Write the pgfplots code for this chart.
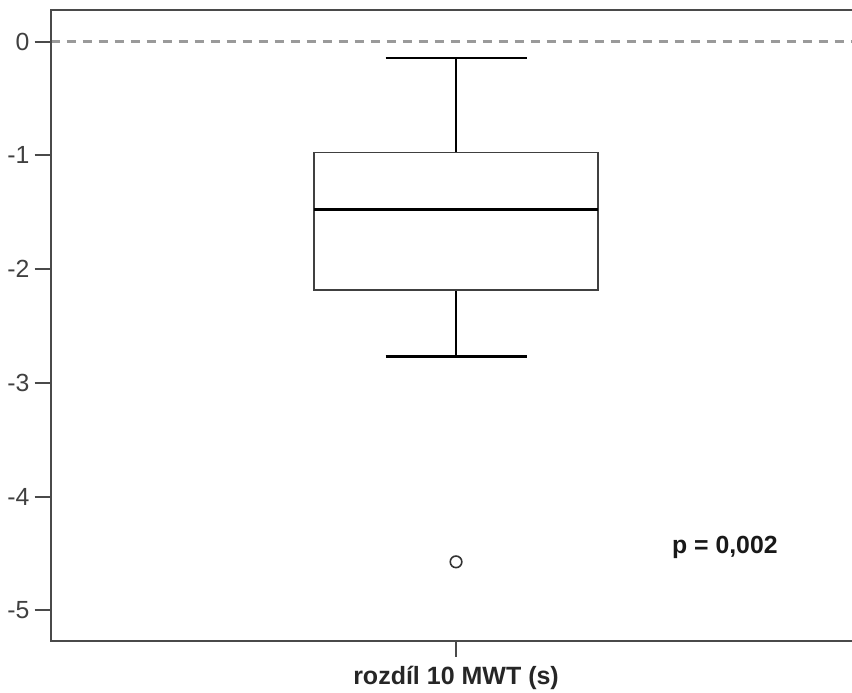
\documentclass[border=0pt]{standalone}
\usepackage{fontspec}
\setmainfont{Liberation Sans}
\usepackage{pgfplots}
\pgfplotsset{compat=1.18}
\definecolor{framec}{HTML}{4A4A4A}
\definecolor{boxc}{HTML}{404040}
\definecolor{dashc}{HTML}{9A9A9A}
\begin{document}
\begin{tikzpicture}
\begin{axis}[
  name=ax,
  scale only axis,
  width=405.45pt, height=315.5pt,
  xmin=0, xmax=2,
  ymin=-5.27, ymax=0.2788,
  axis line style={draw=none},
  tick pos=left,
  tick align=outside,
  major tick length=8pt,
  tick style={color=framec, line width=1pt},
  xtick={1}, xticklabels={rozdíl 10 MWT (s)},
  ytick={-5,-4,-3,-2,-1,0},
  yticklabels={-5,-4,-3,-2,-1,0},
  xticklabel style={font=\fontsize{12.5}{14}\selectfont\bfseries, text=black!85, yshift=-1pt},
  yticklabel style={font=\fontsize{12.4}{14}\selectfont, text=black!75, xshift=1pt},
  clip=false,
]
% reference line
\addplot[dashc, line width=1.3pt, dash pattern=on 4.5pt off 3.5pt] coordinates {(0,0) (2,0)};
% whiskers (vertical parts)
\addplot[black, line width=1.1pt] coordinates {(1,-0.974) (1,-0.143)};
\addplot[black, line width=1.1pt] coordinates {(1,-2.182) (1,-2.769)};
% whisker caps
\addplot[black, line width=1.1pt] coordinates {(0.826,-0.143) (1.174,-0.143)};
\addplot[black, line width=1.1pt] coordinates {(0.826,-2.769) (1.174,-2.769)};
% box (Q1..Q3)
\addplot[boxc, line width=0.8pt, fill=white] coordinates {(0.6498,-2.182) (1.3502,-2.182) (1.3502,-0.974) (0.6498,-0.974)} -- cycle;
% median
\addplot[black, line width=1.6pt] coordinates {(0.6498,-1.478) (1.3502,-1.478)};
% outlier
\addplot[only marks, mark=o, mark size=2.9pt, mark options={draw=black!80, line width=0.8pt}] coordinates {(1,-4.574)};
\draw[framec, line width=1pt] (rel axis cs:1,1) -- (rel axis cs:0,1) -- (rel axis cs:0,0) -- (rel axis cs:1,0);
\node[font=\fontsize{12.4}{14}\selectfont\bfseries, text=black!90] at (axis cs:1.663,-4.445) {p = 0,002};
\end{axis}
\pgfresetboundingbox
\path[use as bounding box] ([xshift=-25.3pt,yshift=-26pt]ax.south west) rectangle ([xshift=400.7pt,yshift=5pt]ax.north west);
\end{tikzpicture}
\end{document}
